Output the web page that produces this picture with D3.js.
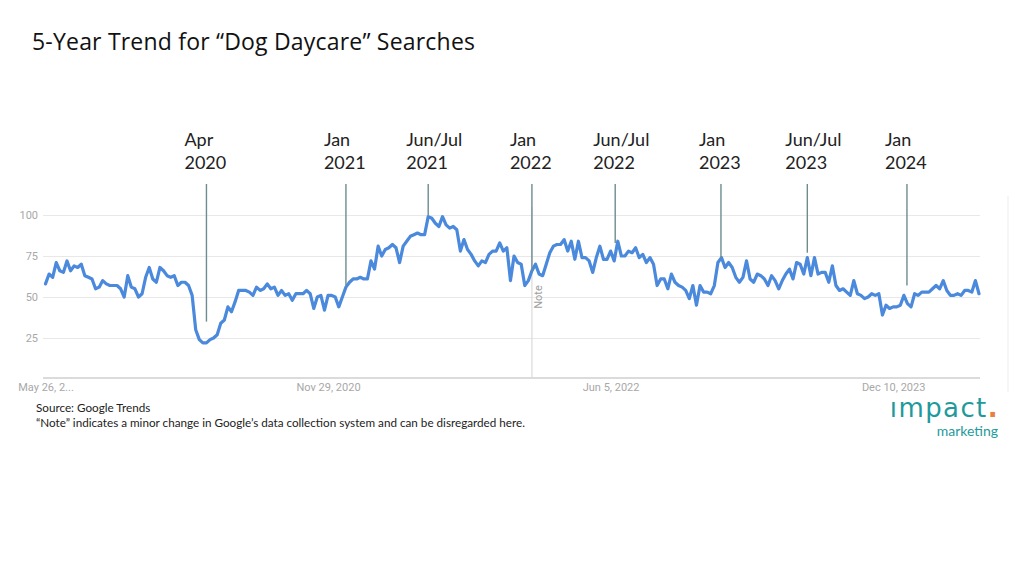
<!DOCTYPE html>
<html>
<head>
<meta charset="utf-8">
<script src="https://cdn.jsdelivr.net/npm/d3@7"></script>
<style>
  html, body { margin: 0; padding: 0; background: #fff; }
  #chart { width: 1024px; height: 576px; }
</style>
</head>
<body>
<div id="chart"></div>
<script>
// Google Trends weekly index for "dog daycare", May 2019 – May 2024,
// with hand-placed callouts for the seasonal peaks and troughs.

const START_DATE = "2019-05-26";
const END_DATE   = "2024-05-26";

// weekly values, one per week from START_DATE
const VALUES = [
  58, 64, 62, 71, 66, 65, 72, 66, 69, 68,
  70, 63, 62, 61, 55, 56, 60, 58, 57, 57,
  57, 55, 50, 63, 56, 55, 50, 52, 62, 68,
  61, 59, 68, 66, 63, 62, 63, 57, 59, 59,
  57, 51, 30, 24, 22, 22, 24, 25, 27, 34,
  36, 44, 41, 47, 54, 54, 54, 53, 51, 56,
  54, 55, 58, 55, 56, 51, 54, 51, 52, 48,
  52, 52, 52, 54, 52, 43, 50, 51, 42, 51,
  51, 50, 44, 50, 56, 59, 61, 61, 62, 61,
  61, 72, 67, 81, 75, 79, 80, 82, 80, 71,
  81, 84, 87, 88, 89, 88, 88, 99, 98, 95,
  93, 99, 94, 92, 93, 91, 78, 85, 79, 76,
  72, 69, 72, 71, 76, 78, 78, 83, 78, 80,
  60, 75, 71, 70, 57, 60, 66, 70, 64, 63,
  70, 77, 81, 82, 82, 85, 78, 84, 73, 84,
  74, 74, 72, 65, 74, 81, 73, 73, 78, 72,
  84, 75, 75, 78, 77, 80, 74, 76, 71, 74,
  70, 57, 61, 61, 55, 64, 59, 57, 56, 54,
  49, 57, 45, 57, 53, 53, 52, 57, 71, 74,
  68, 71, 68, 62, 59, 62, 72, 61, 59, 64,
  63, 61, 57, 63, 60, 55, 60, 64, 67, 61,
  71, 70, 64, 74, 63, 74, 64, 65, 65, 59,
  69, 57, 54, 55, 53, 51, 60, 52, 51, 49,
  50, 52, 51, 52, 39, 45, 43, 44, 44, 45,
  51, 46, 44, 52, 51, 53, 53, 53, 55, 57,
  55, 60, 54, 51, 51, 52, 51, 54, 54, 53,
  60, 52
];

const Y_TICKS = [25, 50, 75, 100];
const X_TICKS = ["2019-05-26", "2020-11-29", "2022-06-05", "2023-12-10"];
const X_TICK_LABELS = ["May 26, 2...", "Nov 29, 2020", "Jun 5, 2022", "Dec 10, 2023"];

const NOTE_DATE = "2022-01-02";

// callouts: two-line label, date it points at, value where the pointer stops
const ANNO_LINE1 = ["Apr", "Jan", "Jun/Jul", "Jan", "Jun/Jul", "Jan", "Jun/Jul", "Jan"];
const ANNO_LINE2 = ["2020", "2021", "2021", "2022", "2022", "2023", "2023", "2024"];
const ANNO_DATES = ["2020-04-05", "2021-01-03", "2021-06-13", "2022-01-02",
                    "2022-06-14", "2023-01-07", "2023-06-25", "2024-01-06"];
const ANNO_STOP  = [35, 57, 100, 66, 83, 74, 77, 57];

const TITLE   = "5-Year Trend for \u201cDog Daycare\u201d Searches";
const SOURCE  = "Source: Google Trends";
const NOTE_TX = "\u201cNote\u201d indicates a minor change in Google\u2019s data collection system and can be disregarded here.";

// ── Layout ───────────────────────────────────────────────────────────────────

const W = 1024, H = 576;
const PLOT = { x0: 43, x1: 980, first: 45.5, last: 979, yBase: 379, yTop: 215 };
const LINE_BLUE  = "#4a89dc";
const ANNO_COLOR = "#6d8c8e";
const FONT_UI    = "Lato, 'Open Sans', sans-serif";
const FONT_TITLE = "'Open Sans', Lato, sans-serif";
const FONT_CHART = "Roboto, Arial, sans-serif";

const parse = d3.utcParse("%Y-%m-%d");
const start = parse(START_DATE);
const data  = VALUES.map((v, i) => ({ date: d3.utcWeek.offset(start, i), value: v }));

const x = d3.scaleUtc()
  .domain([start, parse(END_DATE)])
  .range([PLOT.first, PLOT.last]);

const y = d3.scaleLinear()
  .domain([0, 100])
  .range([PLOT.yBase, PLOT.yTop]);

const svg = d3.select("#chart").append("svg")
  .attr("width", W).attr("height", H)
  .style("font-family", FONT_UI);

// title
svg.append("text")
  .attr("x", 32).attr("y", 50)
  .style("font-family", FONT_TITLE)
  .style("font-size", "23px").style("letter-spacing", "0.2px").style("fill", "#111")
  .text(TITLE);

// gridlines + y labels
svg.append("g")
  .attr("transform", `translate(${PLOT.x0},0)`)
  .call(d3.axisLeft(y).tickValues(Y_TICKS)
    .tickSizeInner(-(PLOT.x1 - PLOT.x0)).tickSizeOuter(0).tickPadding(5))
  .call(ax => ax.select(".domain").remove())
  .call(ax => ax.selectAll(".tick line").attr("stroke", "#e8e8e8").attr("stroke-width", 1))
  .selectAll("text")
    .style("font-family", FONT_CHART).style("font-size", "11px").style("fill", "#a8a8a8");

// baseline
svg.append("line")
  .attr("x1", PLOT.x0).attr("x2", PLOT.x1)
  .attr("y1", y(0) - 1).attr("y2", y(0) - 1)
  .attr("stroke", "#cfcfcf").attr("stroke-width", 1.5);

// x labels
svg.append("g")
  .attr("transform", `translate(0,${y(0) - 1})`)
  .call(d3.axisBottom(x).tickValues(X_TICKS.map(parse))
    .tickSize(0).tickPadding(5)
    .tickFormat((d, i) => X_TICK_LABELS[i]))
  .call(ax => ax.select(".domain").remove())
  .selectAll("text")
    .style("font-family", FONT_CHART).style("font-size", "11px").style("fill", "#a8a8a8");

// Google's "Note" marker
const xNote = x(parse(NOTE_DATE));
svg.append("line")
  .attr("x1", xNote).attr("x2", xNote)
  .attr("y1", y(100) - 8).attr("y2", y(0) - 1)
  .attr("stroke", "#dadada").attr("stroke-width", 1.2);
svg.append("text")
  .attr("transform", `translate(${xNote + 10},${y(50)}) rotate(-90)`)
  .attr("text-anchor", "middle")
  .style("font-family", FONT_CHART).style("font-size", "11px").style("fill", "#a0a0a0")
  .text("Note");

// the series
svg.append("path")
  .datum(data)
  .attr("fill", "none")
  .attr("stroke", LINE_BLUE).attr("stroke-width", 3.2)
  .attr("stroke-linejoin", "round").attr("stroke-linecap", "round")
  .attr("d", d3.line().x(d => x(d.date)).y(d => y(d.value)));

// callouts
ANNO_DATES.forEach((ds, i) => {
  const ax = x(parse(ds));
  svg.append("line")
    .attr("x1", ax).attr("x2", ax)
    .attr("y1", 184).attr("y2", y(ANNO_STOP[i]))
    .attr("stroke", ANNO_COLOR).attr("stroke-width", 1.4);
  const t = svg.append("text")
    .attr("x", ax - 22).attr("y", 146)
    .style("font-size", "18px").style("fill", "#222");
  t.append("tspan").attr("x", ax - 22).text(ANNO_LINE1[i]);
  t.append("tspan").attr("x", ax - 22).attr("dy", 23).text(ANNO_LINE2[i]);
});

// right-hand frame edge of the pasted screenshot
svg.append("line")
  .attr("x1", 1008).attr("x2", 1008).attr("y1", 196).attr("y2", 392)
  .attr("stroke", "#ededed").attr("stroke-width", 1);

// footer
svg.append("text")
  .attr("x", 36).attr("y", 412)
  .style("font-size", "11.7px").style("fill", "#222")
  .text(SOURCE);
svg.append("text")
  .attr("x", 36).attr("y", 427)
  .style("font-size", "11.7px").style("fill", "#222")
  .text(NOTE_TX);

// logo
const logo = svg.append("g").style("fill", "#1f9a9c");
logo.append("text")
  .attr("x", 999).attr("y", 417).attr("text-anchor", "end")
  .style("font-family", "'DejaVu Sans', sans-serif")
  .style("font-size", "26px").style("letter-spacing", "1.4px")
  .text("\u0131mpact")
  .append("tspan").style("fill", "#e8803f").style("font-weight", 700).text(".");
logo.append("text")
  .attr("x", 998).attr("y", 436).attr("text-anchor", "end")
  .style("font-size", "14px")
  .text("marketing");
</script>
</body>
</html>
